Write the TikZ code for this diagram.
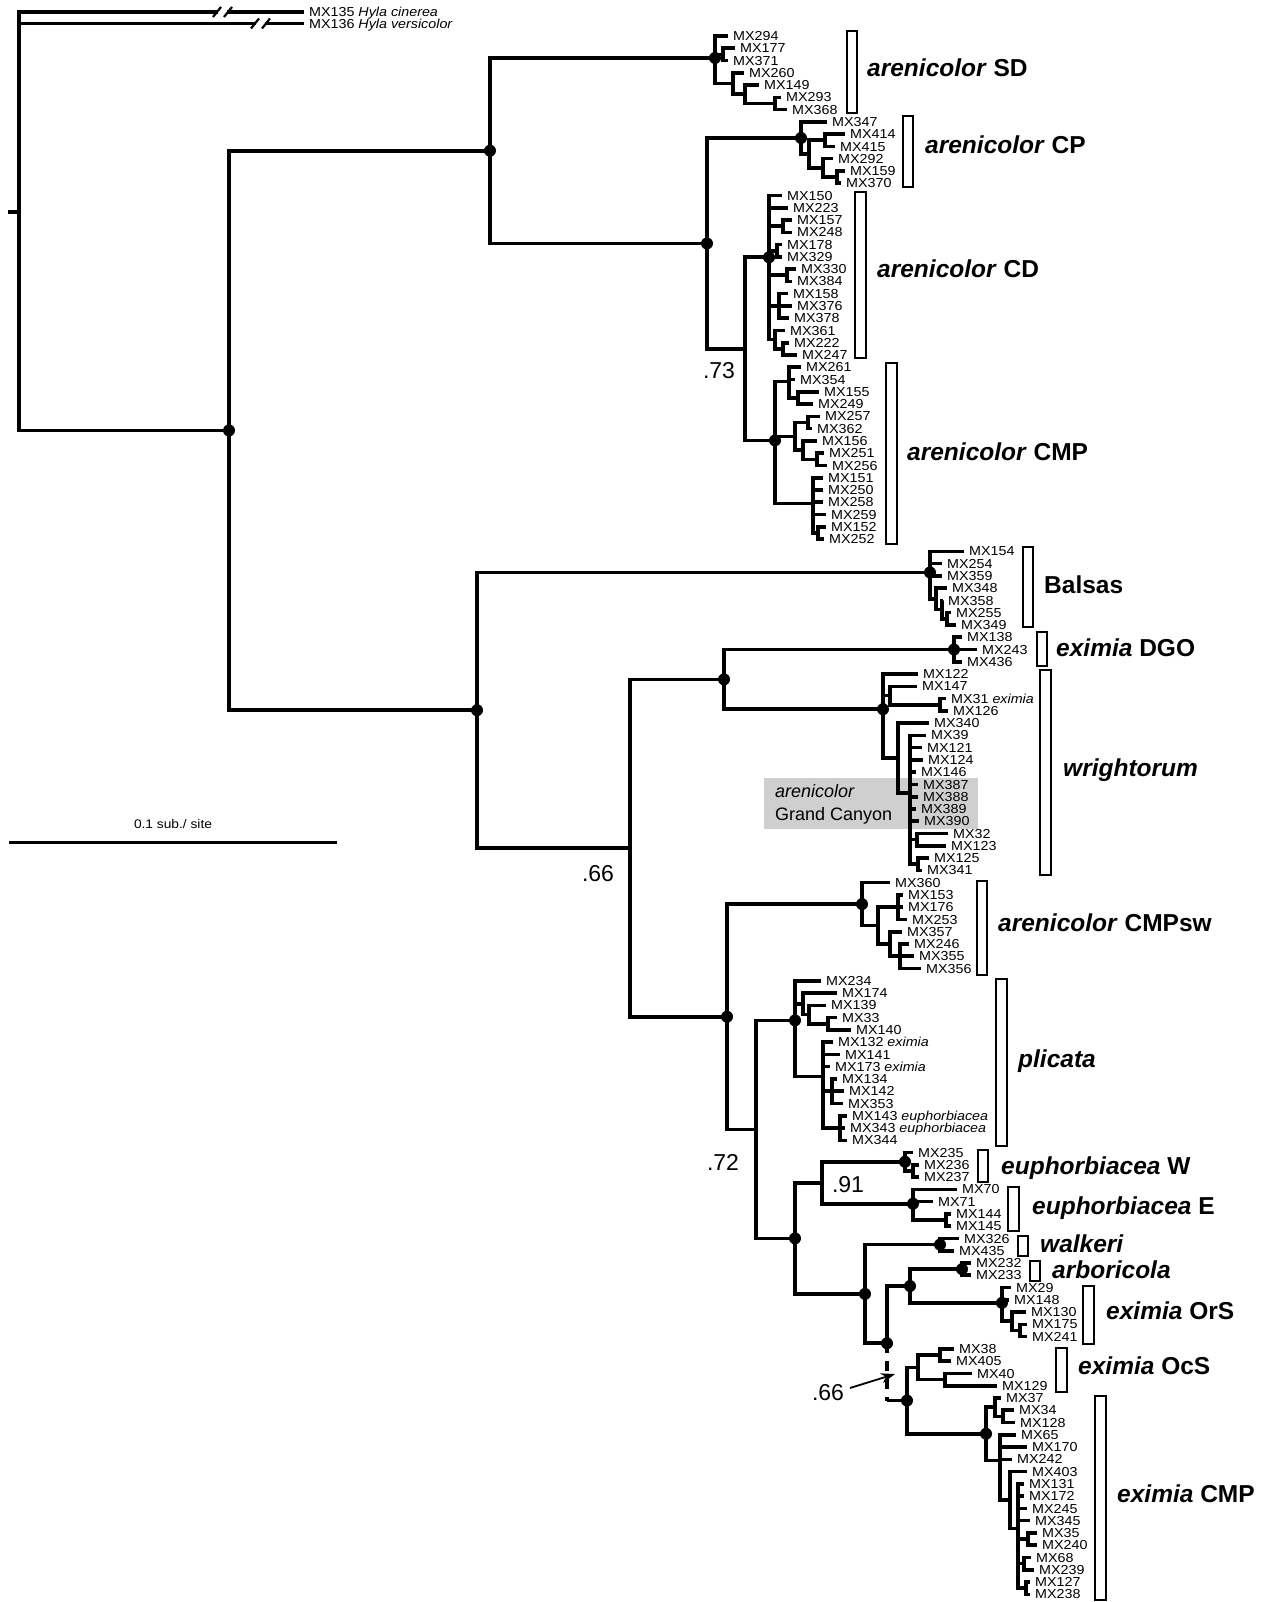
\documentclass[tikz,border=0pt]{standalone}
\usepackage{fontspec}
\setmainfont{Liberation Sans}
\newfontfamily\lblfont[FakeStretch=1.1]{Liberation Sans}
\usetikzlibrary{arrows.meta}
\newdimen\mydy
\newcommand\ndpos[3]{%
  \gdef\mysum{0}\gdef\mycnt{0}%
  \foreach \ch in {#3}{%
    \pgfextracty{\mydy}{\pgfpointanchor{\ch}{center}}%
    \pgfmathsetmacro\mytmp{\mysum+\mydy}\xdef\mysum{\mytmp}%
    \pgfmathsetmacro\mytmp{\mycnt+1}\xdef\mycnt{\mytmp}%
  }%
  \pgfmathsetmacro\myavg{-\mysum/\mycnt}%
  \coordinate (#1) at (#2,\myavg);%
}
\newcommand\nd[3]{\ndpos{#1}{#2}{#3}\foreach \ch in {#3}{\draw[br] (#1) |- (\ch);}}
\newcommand\lf[3]{\coordinate (L#1) at (#2,{36+12.27*(#1-1)});\node[lab] (T#1) at (L#1) {#3};}
\tikzset{
  br/.style={line width=3.6pt},
  lab/.style={anchor=base west, inner sep=0pt, xshift=5pt, yshift=-4.6pt, font=\lblfont\fontsize{13}{13}\selectfont},
  clab/.style={anchor=base west, inner sep=0pt, font=\bfseries\fontsize{24.5}{24.5}\selectfont},
  num/.style={inner sep=0pt, font=\fontsize{23}{23}\selectfont},
  cbar/.style={draw, line width=1.3pt, fill=white},
  slash/.style={line width=2.2pt},
}
\begin{document}
\begin{tikzpicture}[x=1pt,y=-1pt]
\useasboundingbox (0,0) rectangle (1269,1602);
% grey box
\fill[gray!38] (764,778) rectangle (978,829);
\node[anchor=base west, inner sep=0pt, font=\fontsize{18}{18}\selectfont] (gc1) at (775,797) {\textit{arenicolor}};
\node[anchor=base west, inner sep=0pt, font=\fontsize{18}{18}\selectfont] (gc2) at (775,820) {Grand Canyon};
% ---------- SD
\lf{1}{728}{MX294}
\lf{2}{735}{MX177}
\lf{3}{728}{MX371}
\lf{4}{744}{MX260}
\lf{5}{759}{MX149}
\lf{6}{781}{MX293}
\lf{7}{787}{MX368}
\nd{nA}{723}{L2,L3}
\nd{nD}{775}{L6,L7}
\nd{nC}{745}{L5,nD}
\nd{nB}{733}{L4,nC}
\nd{nSD}{715}{L1,nA,nB}
% ---------- CP
\lf{8}{827}{MX347}
\lf{9}{845}{MX414}
\lf{10}{835}{MX415}
\lf{11}{833}{MX292}
\lf{12}{845}{MX159}
\lf{13}{841}{MX370}
\nd{nF}{825}{L9,L10}
\nd{nH}{837}{L12,L13}
\nd{nG}{823}{L11,nH}
\nd{nE}{809}{nF,nG}
\nd{nCP}{801}{L8,nE}
% ---------- CD
\lf{14}{782}{MX150}
\lf{15}{788}{MX223}
\lf{16}{792}{MX157}
\lf{17}{792}{MX248}
\lf{18}{782}{MX178}
\lf{19}{782}{MX329}
\lf{20}{796}{MX330}
\lf{21}{792}{MX384}
\lf{22}{788}{MX158}
\lf{23}{792}{MX376}
\lf{24}{789}{MX378}
\lf{25}{785}{MX361}
\lf{26}{789}{MX222}
\lf{27}{797}{MX247}
\nd{nP1}{783}{L16,L17}
\nd{nP2}{777}{L18,L19}
\nd{nP3}{787}{L20,L21}
\nd{nP4}{779}{L22,L23,L24}
\nd{nP6}{783}{L26,L27}
\nd{nP5}{775}{L25,nP6}
\nd{nCD}{769}{L14,L15,nP1,nP2,nP3,nP4,nP5}
% ---------- arenicolor CMP
\lf{28}{801}{MX261}
\lf{29}{795}{MX354}
\lf{30}{819}{MX155}
\lf{31}{813}{MX249}
\lf{32}{820}{MX257}
\lf{33}{812}{MX362}
\lf{34}{817}{MX156}
\lf{35}{824}{MX251}
\lf{36}{827}{MX256}
\lf{37}{823}{MX151}
\lf{38}{823}{MX250}
\lf{39}{823}{MX258}
\lf{40}{826}{MX259}
\lf{41}{826}{MX152}
\lf{42}{824}{MX252}
\nd{nQ1b}{798}{L30,L31}
\nd{nQ1}{789}{L28,L29,nQ1b}
\nd{nQ2a}{808}{L32,L33}
\nd{nQ2c}{817}{L35,L36}
\nd{nQ2b}{803}{L34,nQ2c}
\nd{nQ2}{795}{nQ2a,nQ2b}
\nd{nQ3a}{818}{L41,L42}
\nd{nQ3}{813}{L37,L38,L39,L40,nQ3a}
\nd{nACMP}{775}{nQ1,nQ2,nQ3}
\nd{n73}{745}{nCD,nACMP}
\nd{n707}{707}{nCP,n73}
\nd{n490}{490}{nSD,n707}
% ---------- Balsas
\lf{43}{964}{MX154}
\lf{44}{942}{MX254}
\lf{45}{942}{MX359}
\lf{46}{947}{MX348}
\lf{47}{943}{MX358}
\lf{48}{951}{MX255}
\lf{49}{956}{MX349}
\nd{nR4}{947}{L48,L49}
\nd{nR3}{942}{L47,nR4}
\nd{nR2}{936}{L46,nR3}
\nd{nBal}{930}{L43,L44,L45,nR2}
% ---------- DGO
\lf{50}{962}{MX138}
\lf{51}{977}{MX243}
\lf{52}{962}{MX436}
\nd{nDGO}{954}{L50,L51,L52}
% ---------- wrightorum
\lf{53}{918}{MX122}
\lf{54}{917}{MX147}
\lf{55}{946}{MX31 \textit{eximia}}
\lf{56}{948}{MX126}
\lf{57}{929}{MX340}
\lf{58}{926}{MX39}
\lf{59}{922}{MX121}
\lf{60}{923}{MX124}
\lf{61}{916}{MX146}
\lf{62}{918}{MX387}
\lf{63}{918}{MX388}
\lf{64}{916}{MX389}
\lf{65}{919}{MX390}
\lf{66}{948}{MX32}
\lf{67}{946}{MX123}
\lf{68}{929}{MX125}
\lf{69}{922}{MX341}
\nd{nW2}{940}{L55,L56}
\nd{nW1}{890}{L54,nW2}
\nd{nW5}{917}{L66,L67}
\nd{nW6}{918}{L68,L69}
\nd{nW4}{910}{L58,L59,L60,L61,L62,L63,L64,L65,nW5,nW6}
\nd{nW3}{898}{L57,nW4}
\nd{nWr}{883}{L53,nW1,nW3}
\nd{n724}{724}{nDGO,nWr}
% ---------- CMPsw
\lf{70}{890}{MX360}
\lf{71}{903}{MX153}
\lf{72}{903}{MX176}
\lf{73}{907}{MX253}
\lf{74}{902}{MX357}
\lf{75}{909}{MX246}
\lf{76}{914}{MX355}
\lf{77}{921}{MX356}
\nd{nS2}{898}{L71,L72,L73}
\nd{nS4}{900}{L75,L76,L77}
\nd{nS3}{890}{L74,nS4}
\nd{nS1}{878}{nS2,nS3}
\nd{nCMPsw}{862}{L70,nS1}
% ---------- plicata
\lf{78}{821}{MX234}
\lf{79}{837}{MX174}
\lf{80}{826}{MX139}
\lf{81}{837}{MX33}
\lf{82}{851}{MX140}
\lf{83}{833}{MX132 \textit{eximia}}
\lf{84}{840}{MX141}
\lf{85}{830}{MX173 \textit{eximia}}
\lf{86}{837}{MX134}
\lf{87}{844}{MX142}
\lf{88}{843}{MX353}
\lf{89}{847}{MX143 \textit{euphorbiacea}}
\lf{90}{845}{MX343 \textit{euphorbiacea}}
\lf{91}{847}{MX344}
\nd{nP9}{828}{L81,L82}
\nd{nP8}{809}{L80,nP9}
\nd{nP7}{803}{L79,nP8}
\nd{nP11}{832}{L86,L87,L88}
\nd{nP12}{840}{L89,L90,L91}
\nd{nP10}{823}{L83,L84,L85,nP11,nP12}
\nd{nPl}{795}{L78,nP7,nP10}
% ---------- euphorbiacea
\lf{92}{913}{MX235}
\lf{93}{919}{MX236}
\lf{94}{919}{MX237}
\nd{nE1}{913}{L93,L94}
\nd{nEW}{905}{L92,nE1}
\lf{95}{957}{MX70}
\lf{96}{933}{MX71}
\lf{97}{951}{MX144}
\lf{98}{951}{MX145}
\nd{nE2}{946}{L97,L98}
\nd{nEE}{913}{L95,L96,nE2}
\nd{n91}{822}{nEW,nEE}
% ---------- walkeri, arboricola, OrS
\lf{99}{959}{MX326}
\lf{100}{954}{MX435}
\nd{nWalk}{940}{L99,L100}
\lf{101}{971}{MX232}
\lf{102}{971}{MX233}
\nd{nArb}{962}{L101,L102}
\lf{103}{1011}{MX29}
\lf{104}{1009}{MX148}
\lf{105}{1026}{MX130}
\lf{106}{1027}{MX175}
\lf{107}{1027}{MX241}
\nd{nO2}{1020}{L106,L107}
\nd{nO1}{1012}{L105,nO2}
\nd{nOrS}{1002}{L103,L104,nO1}
\nd{n910}{910}{nArb,nOrS}
% ---------- OcS
\lf{108}{954}{MX38}
\lf{109}{951}{MX405}
\lf{110}{972}{MX40}
\lf{111}{997}{MX129}
\nd{nC1}{940}{L108,L109}
\nd{nC2}{945}{L110,L111}
\nd{nOcS}{918}{nC1,nC2}
% ---------- eximia CMP
\lf{112}{1001}{MX37}
\lf{113}{1014}{MX34}
\lf{114}{1015}{MX128}
\lf{115}{1016}{MX65}
\lf{116}{1027}{MX170}
\lf{117}{1012}{MX242}
\lf{118}{1027}{MX403}
\lf{119}{1024}{MX131}
\lf{120}{1024}{MX172}
\lf{121}{1027}{MX245}
\lf{122}{1030}{MX345}
\lf{123}{1037}{MX35}
\lf{124}{1037}{MX240}
\lf{125}{1031}{MX68}
\lf{126}{1034}{MX239}
\lf{127}{1030}{MX127}
\lf{128}{1030}{MX238}
\nd{nX3}{1003}{L113,L114}
\nd{nX1}{995}{L112,nX3}
\nd{nX6}{1028}{L123,L124}
\nd{nX7}{1024}{L125,L126}
\nd{nX8}{1026}{L127,L128}
\nd{nX5}{1018}{L119,L120,L121,L122,nX6,nX7,nX8}
\nd{nX4}{1010}{L118,nX5}
\nd{nX2}{1000}{L115,L116,L117,nX4}
\nd{nXC}{986}{nX1,nX2}
\nd{n907}{907}{nOcS,nXC}
\ndpos{n887}{887}{n910,n907}
\draw[br] (n887) |- (n910);
\draw[br, dash pattern=on 10pt off 8pt] (n887) -- (n887 |- n907);
\draw[br] (n887 |- n907) -- (n907);
\nd{n865}{865}{nWalk,n887}
\nd{n795b}{795}{n91,n865}
\nd{n72}{756}{nPl,n795b}
\nd{n727}{727}{nCMPsw,n72}
\nd{n66}{630}{n724,n727}
\nd{n477}{477}{nBal,n66}
\nd{ing}{229}{n490,n477}
% ---------- root and outgroups
\coordinate (root) at (19,212);
\coordinate (rstub) at (8,212);
\draw[br] (rstub) -- (root);
\draw[br] (root) |- (ing);
\coordinate (O135) at (304,12);
\coordinate (O136) at (304,23.5);
\coordinate (b1a) at (218,12);
\coordinate (b1b) at (227,12);
\coordinate (b2a) at (256,23.5);
\coordinate (b2b) at (265,23.5);
\draw[br] (root) |- (b1a);
\draw[br] (b1b) -- (O135);
\draw[br] (root) |- (b2a);
\draw[br] (b2b) -- (O136);
\draw[slash] (213,17) -- (221,7);
\draw[slash] (224,17) -- (232,7);
\draw[slash] (251,28.5) -- (259,18.5);
\draw[slash] (262,28.5) -- (270,18.5);
\node[lab] (T135) at (O135) {MX135 \textit{Hyla cinerea}};
\node[lab] (T136) at (O136) {MX136 \textit{Hyla versicolor}};
% ---------- dots
\foreach \nn in {nSD,nCP,n490,n707,nCD,nACMP,ing,n477,nBal,nDGO,n724,nWr,nCMPsw,n727,nPl,n795b,nEW,nEE,n865,nWalk,n887,n910,nArb,nOrS,n907,nXC}{\fill (\nn) circle (6pt);}
% ---------- support values
\node[num] (s73) at (719,371) {.73};
\node[num] (s66a) at (598,873.5) {.66};
\node[num] (s72) at (723,1162) {.72};
\node[num] (s91) at (848,1185) {.91};
\node[num] (s66b) at (828,1392.5) {.66};
\coordinate (arS) at (850,1388);
\coordinate (arE) at (895,1374);
\draw[line width=1.8pt, -{Stealth[length=14pt,width=10pt]}] (arS) -- (arE);
% ---------- clade bars
\draw[cbar] (847,31) rectangle (857,113);
\draw[cbar] (903,116) rectangle (913,187);
\draw[cbar] (855,192) rectangle (866,358);
\draw[cbar] (886,363) rectangle (897,544);
\draw[cbar] (1023,547) rectangle (1033,627);
\draw[cbar] (1037,632) rectangle (1047,666);
\draw[cbar] (1040,670) rectangle (1051,875);
\draw[cbar] (977,881) rectangle (987,975);
\draw[cbar] (996,979) rectangle (1007,1146);
\draw[cbar] (978,1150) rectangle (988,1182);
\draw[cbar] (1008,1187) rectangle (1019,1231);
\draw[cbar] (1018,1236) rectangle (1028,1256);
\draw[cbar] (1030,1261) rectangle (1040,1281);
\draw[cbar] (1083,1286) rectangle (1094,1344);
\draw[cbar] (1056,1348) rectangle (1067,1392);
\draw[cbar] (1095,1396) rectangle (1106,1600);
% ---------- clade labels
\node[clab] (cSD) at (867,76.5) {\textit{arenicolor} SD};
\node[clab] (cCP) at (925,154) {\textit{arenicolor} CP};
\node[clab] (cCD) at (877,278) {\textit{arenicolor} CD};
\node[clab] (cCMP) at (907,460) {\textit{arenicolor} CMP};
\node[clab] (cBal) at (1044,593.5) {Balsas};
\node[clab] (cDGO) at (1056,656) {\textit{eximia} DGO};
\node[clab] (cWr) at (1063,776.5) {\textit{wrightorum}};
\node[clab] (cSW) at (998,931.6) {\textit{arenicolor} CMPsw};
\node[clab] (cPl) at (1018,1067.5) {\textit{plicata}};
\node[clab] (cEW) at (1001,1174) {\textit{euphorbiacea} W};
\node[clab] (cEE) at (1032,1214.6) {\textit{euphorbiacea} E};
\node[clab] (cWa) at (1040,1252) {\textit{walkeri}};
\node[clab] (cAr) at (1052,1278) {\textit{arboricola}};
\node[clab] (cOrS) at (1106,1319) {\textit{eximia} OrS};
\node[clab] (cOcS) at (1078,1374) {\textit{eximia} OcS};
\node[clab] (cXC) at (1117,1502) {\textit{eximia} CMP};
% ---------- scale bar
\coordinate (sb1) at (9,842.5);
\coordinate (sb2) at (337,842.5);
\draw[line width=3.6pt] (sb1) -- (sb2);
\node[inner sep=0pt, font=\lblfont\fontsize{12.5}{12.5}\selectfont] (sbt) at (173,824) {0.1 sub./ site};
\end{tikzpicture}
\end{document}
